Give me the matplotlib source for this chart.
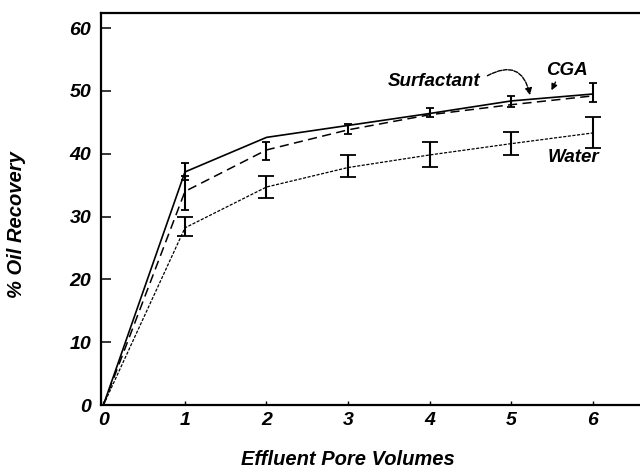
import matplotlib
matplotlib.use("Agg")
import matplotlib.pyplot as plt
import numpy as np

plt.rcParams['font.family'] = ['Liberation Sans', 'DejaVu Sans']

pore_volumes = [0, 1, 2, 3, 4, 5, 6]
cga = [0, 37.1, 42.6, 44.5, 46.4, 48.4, 49.5]
surfactant = [0, 34.0, 40.6, 43.8, 46.2, 47.8, 49.2]
water = [0, 28.2, 34.7, 37.8, 39.8, 41.6, 43.3]

# error bar ends (low, high)
cga_err_x = [1]
cga_low = [35.8]
cga_high = [38.6]
surf_err_x = [1, 2, 3, 4, 5, 6]
surf_low = [31.0, 39.0, 43.1, 45.9, 47.4, 48.3]
surf_high = [36.5, 41.9, 44.7, 47.2, 49.2, 51.2]
water_err_x = [1, 2, 3, 4, 5, 6]
water_low = [26.9, 32.9, 36.3, 37.9, 39.8, 40.9]
water_high = [29.9, 36.4, 39.8, 41.9, 43.5, 45.8]

fig = plt.figure(figsize=(6.4, 4.69), dpi=100)
ax = fig.add_axes([101/640, 64/469, 1 - 101/640 + 0.01, 392/469])

ax.plot(pore_volumes, cga, color='black', lw=1.2, ls='-')
ax.plot(pore_volumes, surfactant, color='black', lw=1.1, ls=(0, (6, 3.5)))
ax.plot(pore_volumes, water, color='black', lw=0.9, ls=(0, (2.5, 1.2)))

def bars(xs, lows, highs, series, cap):
    ys = [series[pore_volumes.index(x)] for x in xs]
    yerr = [np.array(ys) - np.array(lows), np.array(highs) - np.array(ys)]
    ax.errorbar(xs, ys, yerr=yerr, fmt='none', ecolor='black', elinewidth=1.5,
                capsize=cap, capthick=1.3)

bars(cga_err_x, cga_low, cga_high, cga, 3)
bars(surf_err_x, surf_low, surf_high, surfactant, 3)
bars(water_err_x, water_low, water_high, water, 6)

ax.set_xlim(-0.03, 6.66)
ax.set_ylim(0, 62.4)
ax.set_xticks(range(0, 7))
ax.set_yticks(range(0, 61, 10))
tickfont = dict(fontsize=14, fontweight='bold', fontstyle='italic')
ax.set_xticklabels([str(i) for i in range(0, 7)], **tickfont)
ax.set_yticklabels([str(i) for i in range(0, 61, 10)], **tickfont)
ax.tick_params(axis='y', direction='in', length=7, width=1.1, pad=7)
ax.tick_params(axis='x', direction='in', length=3, width=1.0, pad=5)
for s in ['left', 'bottom', 'top']:
    ax.spines[s].set_linewidth(1.6)
ax.spines['right'].set_visible(False)

labfont = dict(fontsize=14.5, fontweight='bold', fontstyle='italic')
ax.set_xlabel('Effluent Pore Volumes', **labfont)
ax.xaxis.set_label_coords((345 - 101) / 539, -0.114)
ax.set_ylabel('% Oil Recovery', **labfont)
ax.yaxis.set_label_coords(-0.137, 0.46)

annfont = dict(fontsize=13.5, fontweight='bold', fontstyle='italic')
ax.text(4.05, 51.5, 'Surfactant', ha='center', va='center', **annfont)
ax.annotate('', xy=(5.24, 48.9), xytext=(4.68, 52.2),
            arrowprops=dict(arrowstyle='-|>', color='black', lw=1.0,
                            ls=(0, (3, 1)),
                            connectionstyle='arc3,rad=-0.7',
                            mutation_scale=10))
ax.text(5.69, 53.3, 'CGA', ha='center', va='center', **annfont)
ax.annotate('', xy=(5.48, 49.7), xytext=(5.56, 51.8),
            arrowprops=dict(arrowstyle='-|>', color='black', lw=1.0,
                            mutation_scale=9))
ax.text(5.76, 39.4, 'Water', ha='center', va='center', **annfont)

fig.savefig('out.png', dpi=100)
